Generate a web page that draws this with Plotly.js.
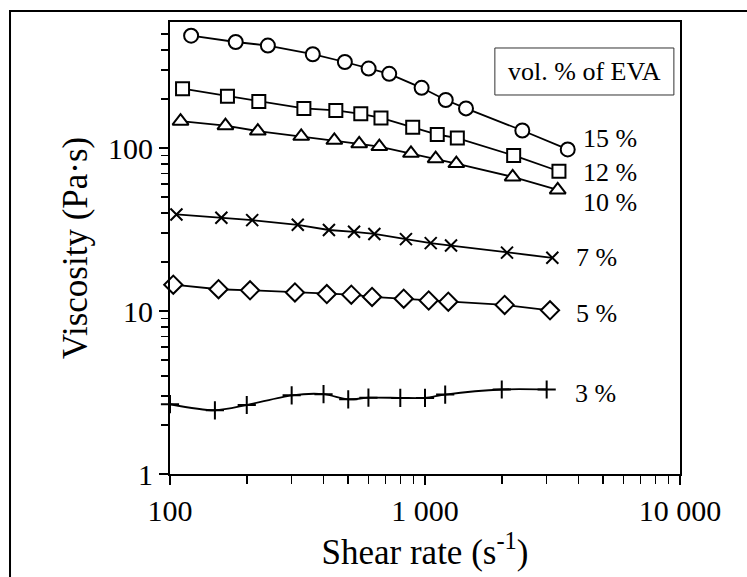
<!DOCTYPE html>
<html>
<head>
<meta charset="utf-8">
<script src="https://cdn.plot.ly/plotly-3.0.1.min.js"></script>
<style>
  html, body { margin: 0; padding: 0; background: #fff; overflow: hidden; }
  #chart { width: 747px; height: 577px; }
</style>
</head>
<body>
<div id="chart"></div>
<script>
// Viscosity vs shear rate for blends with different EVA volume fractions
const rate15 = [121, 181, 242, 363, 485, 601, 724, 970, 1206, 1448, 2408, 3628];
const visc15 = [489, 447, 425, 376, 337, 307, 285, 234, 197, 175, 128, 98];

const rate12 = [112, 168, 223, 335, 447, 560, 672, 895, 1117, 1339, 2227, 3352];
const visc12 = [231, 208, 193, 175, 170, 162, 153, 134, 121, 115, 90, 72];

const rate10 = [110, 165, 221, 327, 441, 552, 662, 881, 1101, 1327, 2207, 3315];
const visc10 = [146, 137, 127, 118, 111.5, 106, 102, 92.8, 86, 80.2, 66.5, 55.3];

const rate7 = [106, 159, 210, 317, 420, 527, 633, 842, 1053, 1265, 2097, 3157];
const visc7 = [39.1, 37.3, 36.1, 33.8, 31.4, 30.6, 29.7, 27.6, 26.1, 25.2, 22.8, 21.2];

const rate5 = [103, 155, 206, 309, 412, 514, 620, 825, 1034, 1234, 2053, 3092];
const visc5 = [14.5, 13.6, 13.4, 13.0, 12.7, 12.6, 12.2, 11.9, 11.6, 11.4, 10.9, 10.1];

const rate3 = [100, 150, 200, 300, 400, 500, 600, 800, 1000, 1200, 2000, 3000];
const visc3 = [2.68, 2.46, 2.65, 3.04, 3.09, 2.87, 2.94, 2.93, 2.93, 3.07, 3.30, 3.30];

const seriesLabels = ['15 %', '12 %', '10 %', '7 %', '5 %', '3 %'];
const legendTitle = 'vol. % of EVA';

const xTickVals = [100, 1000, 10000];
const xTickText = ['100', '1 000', '10 000'];
const yTickVals = [1, 10, 100];
const yTickText = ['1', '10', '100'];

const FONT = "'Liberation Serif', 'Times New Roman', serif";

// minor tick positions at 2..9 of every decade
function minorTicks(fromExp, toExp) {
  const out = [];
  for (let e = fromExp; e < toExp; e++) {
    for (let m = 2; m <= 9; m++) out.push(m * Math.pow(10, e));
  }
  return out;
}

function series(x, y, marker, lineExtra) {
  return {
    x: x, y: y,
    type: 'scatter',
    mode: 'lines+markers',
    cliponaxis: false,
    line: Object.assign({ color: '#000', width: 1.8 }, lineExtra || {}),
    marker: marker,
    showlegend: false,
    hoverinfo: 'x+y'
  };
}

const hollow = (symbol, size) => ({ symbol: symbol, size: size, color: '#fff', line: { color: '#000', width: 2 } });
const thin = (symbol, size) => ({ symbol: symbol, size: size, color: '#000', line: { color: '#000', width: 2 } });

const traces = [
  series(rate15, visc15, hollow('circle', 14)),
  series(rate12, visc12, hollow('square', 13)),
  series(rate10, visc10, hollow('triangle-up', 14)),
  series(rate7, visc7, thin('x-thin-open', 12)),
  series(rate5, visc5, hollow('diamond', 14)),
  series(rate3, visc3, thin('cross-thin-open', 13), { shape: 'spline', smoothing: 0.8 })
];

// label positions to the right of each curve end (paper coordinates)
const labelPos = [
  [0.806, 0.743], [0.806, 0.668], [0.806, 0.600],
  [0.792, 0.478], [0.792, 0.356], [0.790, 0.179]
];

const annotations = seriesLabels.map((t, i) => ({
  text: t, xref: 'paper', yref: 'paper',
  x: labelPos[i][0], y: labelPos[i][1],
  xanchor: 'left', yanchor: 'middle', showarrow: false,
  font: { family: FONT, size: 26, color: '#000' }
}));
annotations.push({
  text: legendTitle, xref: 'paper', yref: 'paper',
  x: 0.8125, y: 0.8905, xanchor: 'center', yanchor: 'middle', showarrow: false,
  font: { family: FONT, size: 26, color: '#000' }
});

const layout = {
  width: 747, height: 577,
  margin: { l: 170, r: 67, t: 22, b: 103 },
  paper_bgcolor: '#fff', plot_bgcolor: '#fff',
  font: { family: FONT, color: '#000' },
  xaxis: {
    type: 'log', range: [2, 4],
    tickmode: 'array', tickvals: xTickVals, ticktext: xTickText,
    ticks: 'outside', ticklen: 9, tickwidth: 2, tickcolor: '#000',
    minor: { tickmode: 'array', tickvals: minorTicks(2, 4), ticks: 'outside', ticklen: 8, tickwidth: 1.5, tickcolor: '#000' },
    showline: true, linecolor: '#000', linewidth: 2, mirror: true,
    showgrid: false, zeroline: false,
    tickfont: { family: FONT, size: 30, color: '#000' },
    title: { text: 'Shear rate (s<sup>-1</sup>)', font: { family: FONT, size: 35, color: '#000' }, standoff: 3 }
  },
  yaxis: {
    type: 'log', range: [0, 2.773],
    tickmode: 'array', tickvals: yTickVals, ticktext: yTickText,
    ticks: 'outside', ticklen: 9, tickwidth: 2, tickcolor: '#000',
    minor: { tickmode: 'array', tickvals: minorTicks(0, 3), ticks: 'outside', ticklen: 7, tickwidth: 1.5, tickcolor: '#000' },
    showline: true, linecolor: '#000', linewidth: 2, mirror: true,
    showgrid: false, zeroline: false,
    tickfont: { family: FONT, size: 30, color: '#000' },
    title: { text: 'Viscosity (Pa·s)', font: { family: FONT, size: 35, color: '#000' }, standoff: 10 }
  },
  shapes: [
    // legend box
    { type: 'rect', xref: 'paper', yref: 'paper', x0: 0.637, x1: 0.988, y0: 0.8385, y1: 0.9425,
      line: { color: '#333', width: 1 }, fillcolor: 'rgba(0,0,0,0)' },
    // figure frame
    { type: 'rect', xref: 'paper', yref: 'paper', x0: -0.3137, x1: 1.6, y0: -0.5, y1: 1.0243,
      line: { color: '#000', width: 2 }, fillcolor: 'rgba(0,0,0,0)', layer: 'below' }
  ],
  annotations: annotations
};

Plotly.newPlot('chart', traces, layout, { displayModeBar: false, staticPlot: true });
</script>
</body>
</html>
